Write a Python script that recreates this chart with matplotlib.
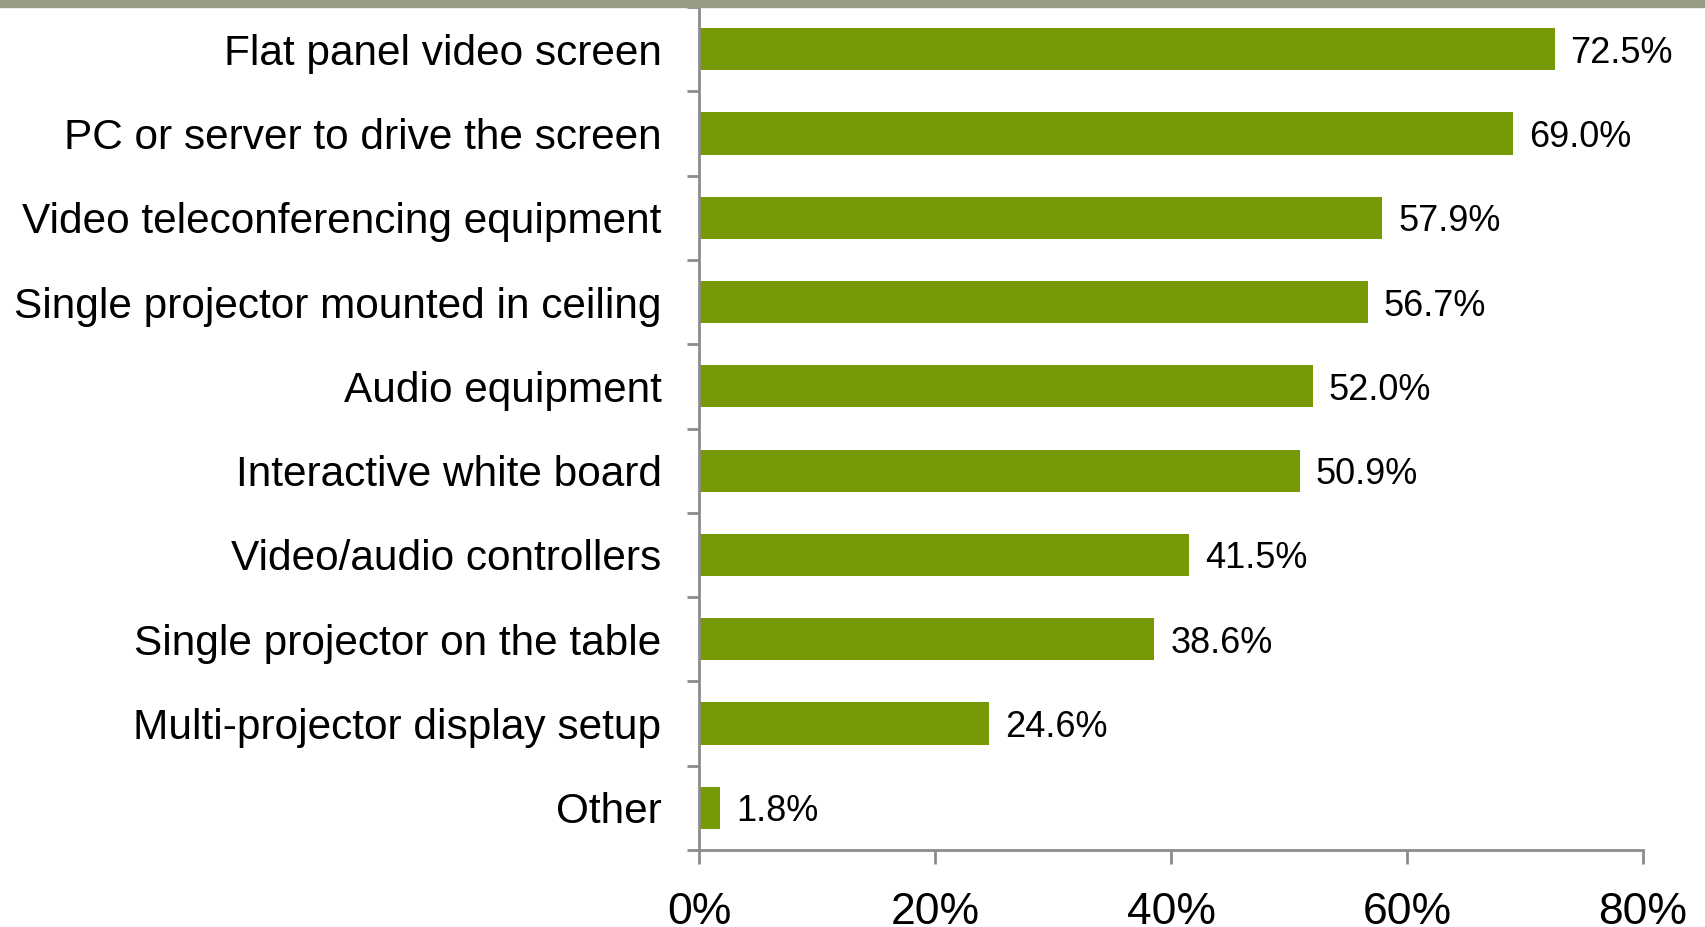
import matplotlib.pyplot as plt
import numpy as np

categories = ["Flat panel video screen", "PC or server to drive the screen",
              "Video teleconferencing equipment", "Single projector mounted in ceiling",
              "Audio equipment", "Interactive white board", "Video/audio controllers",
              "Single projector on the table", "Multi-projector display setup", "Other"]
values = [72.5, 69.0, 57.9, 56.7, 52.0, 50.9, 41.5, 38.6, 24.6, 1.8]
xticks = [0, 20, 40, 60, 80]

plt.rcParams['font.family'] = ['Liberation Sans', 'DejaVu Sans']

fig = plt.figure(figsize=(17.05, 9.27), dpi=100)
W, H = 1705, 927
ax = fig.add_axes([699 / W, 1 - 850 / H, (1643 - 699) / W, (850 - 7) / H])

# grey-green band at the top
fig.patches.append(plt.Rectangle((0, 1 - 7 / H), 1, 7 / H, transform=fig.transFigure,
                                 color="#969b86", zorder=0))

y = np.arange(len(categories))
ax.barh(y, values, height=0.5, color="#759a06")
for yi, v in zip(y, values):
    ax.text(v + 1.35, yi, f"{v:.1f}%", va="center_baseline", ha="left", fontsize=26)

ax.set_xlim(0, 80)
ax.set_ylim(len(categories) - 0.5, -0.5)

# tick marks between bars (major), category labels centred on bars (minor)
ax.set_yticks(list(y + 0.5) + [-0.5])
ax.set_yticklabels([""] * (len(categories) + 1))
ax.tick_params(axis="y", which="major", length=9, width=2, color="#8c8c8c", direction="out")
ax.set_yticks(y, minor=True)
ax.set_yticklabels(categories, minor=True)
ax.tick_params(axis="y", which="minor", length=0, pad=27, labelsize=30.5)

ax.set_xticks(xticks)
ax.set_xticklabels([f"{t}%" for t in xticks], fontsize=32)
ax.tick_params(axis="x", length=10, width=2, color="#8c8c8c", pad=20)

for s in ["top", "right"]:
    ax.spines[s].set_visible(False)
for s in ["left", "bottom"]:
    ax.spines[s].set_color("#8c8c8c")
    ax.spines[s].set_linewidth(2)

fig.savefig("out.png", dpi=100)
